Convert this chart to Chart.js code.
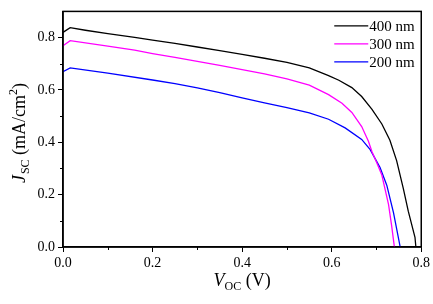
<!DOCTYPE html>
<html>
<head>
<meta charset="utf-8">
<script src="https://cdn.jsdelivr.net/npm/chart.js@4/dist/chart.umd.min.js"></script>
<style>
html,body{margin:0;padding:0;background:#fff;}
#wrap{width:433px;height:304px;position:relative;}
</style>
</head>
<body>
<div id="wrap"><canvas id="c" width="433" height="304"></canvas></div>
<script>
// ---- data ----
const seriesLabels = ['400 nm', '300 nm', '200 nm'];
const v400 = [0, 0.016, 0.05, 0.10, 0.16, 0.20, 0.25, 0.30, 0.35, 0.40, 0.45, 0.50, 0.55, 0.593, 0.616, 0.645, 0.667, 0.690, 0.712, 0.730, 0.745, 0.760, 0.771, 0.786, 0.788];
const j400 = [0.820, 0.838, 0.828, 0.815, 0.801, 0.790, 0.778, 0.764, 0.750, 0.736, 0.721, 0.705, 0.684, 0.655, 0.637, 0.609, 0.575, 0.526, 0.470, 0.408, 0.330, 0.223, 0.137, 0.037, 0.0];
const v300 = [0, 0.016, 0.10, 0.16, 0.20, 0.25, 0.30, 0.35, 0.40, 0.45, 0.50, 0.55, 0.593, 0.623, 0.645, 0.667, 0.682, 0.690, 0.700, 0.712, 0.727, 0.734, 0.740];
const j300 = [0.769, 0.788, 0.767, 0.752, 0.739, 0.724, 0.709, 0.694, 0.678, 0.661, 0.642, 0.618, 0.582, 0.549, 0.514, 0.460, 0.404, 0.364, 0.325, 0.275, 0.162, 0.080, 0.0];
const v200 = [0, 0.016, 0.10, 0.20, 0.25, 0.30, 0.35, 0.40, 0.45, 0.50, 0.55, 0.593, 0.630, 0.667, 0.686, 0.701, 0.708, 0.723, 0.738, 0.753];
const j200 = [0.670, 0.684, 0.664, 0.638, 0.624, 0.608, 0.590, 0.570, 0.551, 0.532, 0.512, 0.488, 0.455, 0.411, 0.372, 0.325, 0.304, 0.236, 0.131, 0.0];
const seriesColors = ['#000000', '#ff00ff', '#0000ff'];
const xTicks = [0, 0.2, 0.4, 0.6, 0.8];
const yTicks = [0, 0.2, 0.4, 0.6, 0.8];
const xMinor = [0.1, 0.3, 0.5, 0.7];
const yMinor = [0.1, 0.3, 0.5, 0.7];

const toPts = (vs, js) => vs.map((v, i) => ({x: v, y: js[i]}));
const FONT = '"Liberation Serif","Times New Roman",serif';

const extras = {
  id: 'extras',
  afterDraw(chart) {
    const ctx = chart.ctx;
    const a = chart.chartArea;
    const xs = chart.scales.x, ys = chart.scales.y;
    ctx.save();
    // frame
    ctx.strokeStyle = '#000';
    ctx.lineWidth = 1.5;
    ctx.strokeRect(a.left, a.top, a.right - a.left, a.bottom - a.top);
    // minor ticks
    ctx.lineWidth = 1;
    ctx.beginPath();
    xMinor.forEach(v => { const px = Math.round(xs.getPixelForValue(v)) + 0.5; ctx.moveTo(px, a.bottom); ctx.lineTo(px, a.bottom + 3); });
    yMinor.forEach(v => { const py = Math.round(ys.getPixelForValue(v)) + 0.5; ctx.moveTo(a.left, py); ctx.lineTo(a.left - 3, py); });
    ctx.stroke();
    // legend
    ctx.textBaseline = 'middle';
    ctx.textAlign = 'left';
    ctx.font = '15px ' + FONT;
    chart.data.datasets.forEach((ds, i) => {
      const y = a.top + 14.5 + i * 18;
      ctx.strokeStyle = ds.borderColor;
      ctx.lineWidth = 1.3;
      ctx.beginPath();
      ctx.moveTo(a.right - 87, y);
      ctx.lineTo(a.right - 53, y);
      ctx.stroke();
      ctx.fillStyle = '#000';
      ctx.fillText(ds.label, a.right - 52, y + 1);
    });
    // x title: V_OC (V)
    ctx.textBaseline = 'alphabetic';
    const cx = (a.left + a.right) / 2;
    const big = '18px ' + FONT, bigI = 'italic 18px ' + FONT, small = '12px ' + FONT;
    ctx.font = bigI; const wV = ctx.measureText('V').width;
    ctx.font = small; const wOC = ctx.measureText('OC').width;
    ctx.font = big; const wRest = ctx.measureText(' (V)').width;
    let x0 = cx - (wV + wOC + wRest) / 2;
    const by = 286;
    ctx.fillStyle = '#000';
    ctx.font = bigI; ctx.fillText('V', x0, by); x0 += wV;
    ctx.font = small; ctx.fillText('OC', x0, by + 4); x0 += wOC;
    ctx.font = big; ctx.fillText(' (V)', x0, by);
    // y title: J_SC (mA/cm^2)
    ctx.translate(25, 133);
    ctx.rotate(-Math.PI / 2);
    ctx.font = bigI; const wJ = ctx.measureText('J').width + 1;
    ctx.font = small; const wSC = ctx.measureText('SC').width;
    ctx.font = big; const wM = ctx.measureText(' (mA/cm').width;
    ctx.font = small; const w2 = ctx.measureText('2').width;
    ctx.font = big; const wP = ctx.measureText(')').width;
    let t = -(wJ + wSC + wM + w2 + wP) / 2;
    ctx.font = bigI; ctx.fillText('J', t, 0); t += wJ;
    ctx.font = small; ctx.fillText('SC', t, 4); t += wSC;
    ctx.font = big; ctx.fillText(' (mA/cm', t, 0); t += wM;
    ctx.font = small; ctx.fillText('2', t, -8); t += w2;
    ctx.font = big; ctx.fillText(')', t, 0);
    ctx.restore();
  }
};

new Chart(document.getElementById('c'), {
  type: 'scatter',
  data: {
    datasets: [
      {label: seriesLabels[0], data: toPts(v400, j400), borderColor: seriesColors[0]},
      {label: seriesLabels[1], data: toPts(v300, j300), borderColor: seriesColors[1]},
      {label: seriesLabels[2], data: toPts(v200, j200), borderColor: seriesColors[2]}
    ].map(d => Object.assign(d, {showLine: true, pointRadius: 0, borderWidth: 1.3, tension: 0, fill: false}))
  },
  options: {
    responsive: false,
    animation: false,
    layout: {padding: {left: 0, right: 10, top: 4, bottom: 0}},
    plugins: {legend: {display: false}, tooltip: {enabled: false}},
    scales: {
      x: {
        type: 'linear', min: 0, max: 0.8,
        afterBuildTicks: s => { s.ticks = xTicks.map(v => ({value: v})); },
        afterFit: s => { s.height = 57; },
        grid: {drawOnChartArea: false, drawTicks: true, tickLength: 5, tickColor: '#000', tickWidth: 1},
        border: {color: '#000', width: 1.5},
        ticks: {color: '#000', font: {family: FONT, size: 14}, padding: 3, maxRotation: 0, callback: v => Number(v).toFixed(1)}
      },
      y: {
        type: 'linear', min: 0, max: 0.9,
        afterBuildTicks: s => { s.ticks = yTicks.map(v => ({value: v})); },
        afterFit: s => { s.width = 63; },
        grid: {drawOnChartArea: false, drawTicks: true, tickLength: 5, tickColor: '#000', tickWidth: 1},
        border: {color: '#000', width: 1.5},
        ticks: {color: '#000', font: {family: FONT, size: 14}, padding: 3, callback: v => Number(v).toFixed(1)}
      }
    }
  },
  plugins: [extras]
});
</script>
</body>
</html>
